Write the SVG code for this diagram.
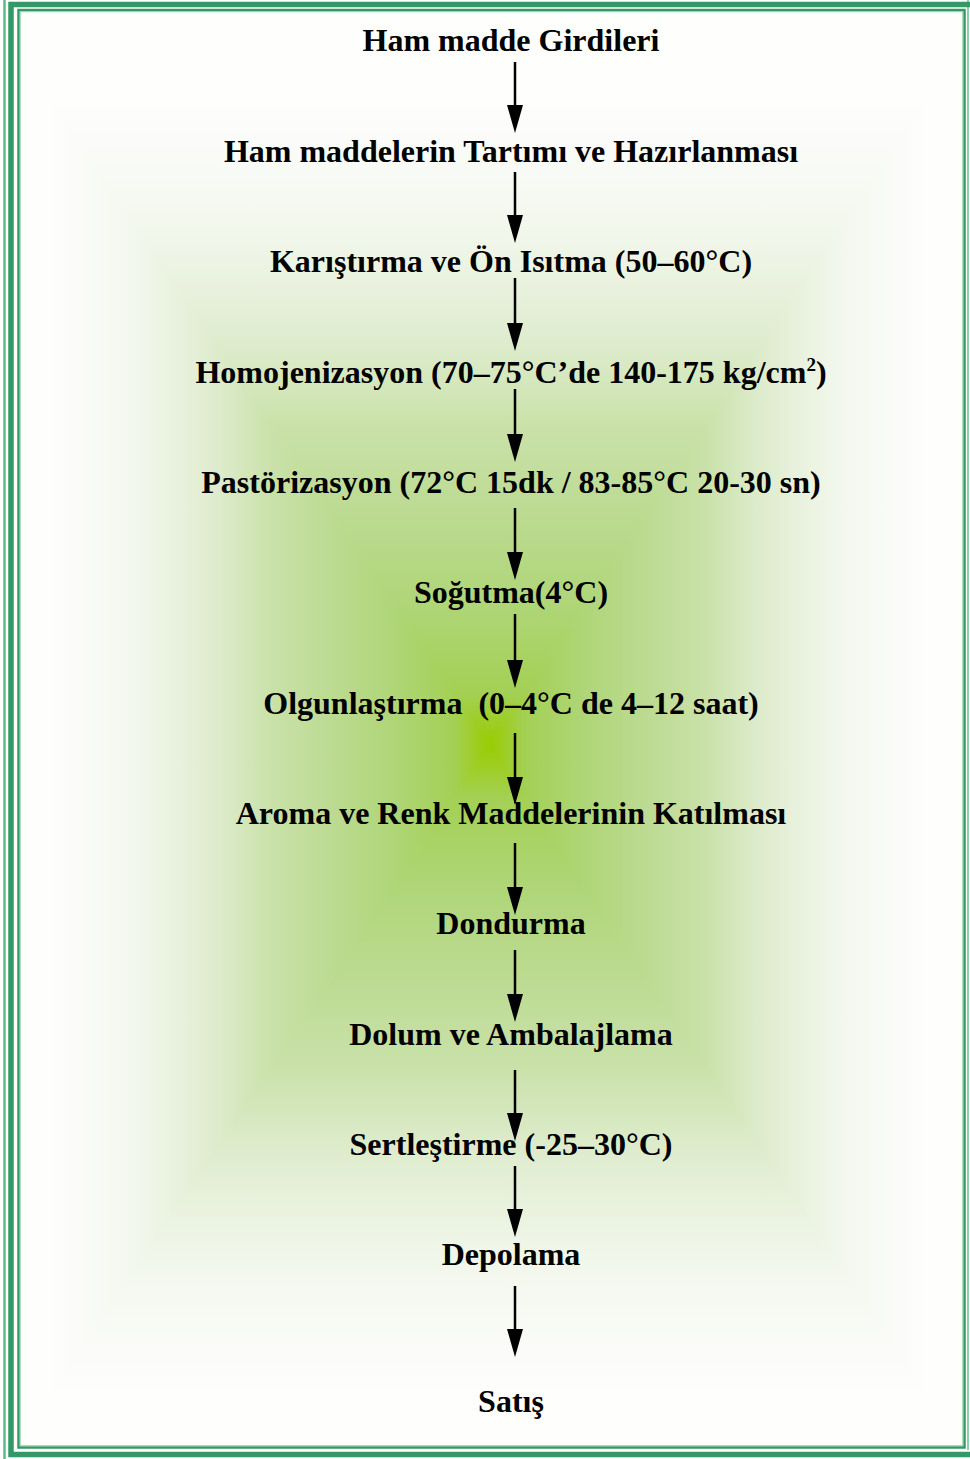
<svg xmlns="http://www.w3.org/2000/svg" xmlns:xlink="http://www.w3.org/1999/xlink" width="970" height="1459" viewBox="0 0 970 1459">
<style>
.t{font-family:"Liberation Serif","Times New Roman",serif;font-weight:bold;font-size:32px;fill:#000;text-anchor:middle;white-space:pre}
.c{stroke:#000;stroke-width:2.5;fill:none}
</style>
<defs>
<linearGradient id="gt" gradientUnits="userSpaceOnUse" x1="0" y1="100" x2="0" y2="745">
<stop offset="0" stop-color="#fefefd"/><stop offset="0.116" stop-color="#f8faf5"/><stop offset="0.2" stop-color="#f2f7ec"/><stop offset="0.3" stop-color="#e8f1dc"/><stop offset="0.39" stop-color="#dcebca"/><stop offset="0.51" stop-color="#c9e1a8"/><stop offset="0.61" stop-color="#bfdc97"/><stop offset="0.77" stop-color="#b0d67a"/><stop offset="0.92" stop-color="#a3d054"/><stop offset="1" stop-color="#99cc00"/>
</linearGradient>
<linearGradient id="gb" xlink:href="#gt" gradientUnits="userSpaceOnUse" x1="0" y1="1395" x2="0" y2="745"/>
<linearGradient id="gl" xlink:href="#gt" gradientUnits="userSpaceOnUse" x1="49" y1="0" x2="490" y2="0"/>
<linearGradient id="gr" xlink:href="#gt" gradientUnits="userSpaceOnUse" x1="926" y1="0" x2="490" y2="0"/>
<marker id="ah" markerWidth="28" markerHeight="16" refX="18" refY="8" orient="auto" markerUnits="userSpaceOnUse" viewBox="0 0 28 16">
<path d="M0,0 L28,8 L0,16 Z" fill="#000"/>
</marker>
</defs>
<rect x="0" y="0" width="970" height="1459" fill="#fff"/>
<g id="background">
<polygon points="-39,-29 1013,-29 490,745" fill="url(#gt)" stroke="url(#gt)" stroke-width="1"/>
<polygon points="-39,1525 1013,1525 490,745" fill="url(#gb)" stroke="url(#gb)" stroke-width="1"/>
<polygon points="-39,-29 -39,1525 490,745" fill="url(#gl)" stroke="url(#gl)" stroke-width="1"/>
<polygon points="1013,-29 1013,1525 490,745" fill="url(#gr)" stroke="url(#gr)" stroke-width="1"/>
<rect x="0" y="0" width="22" height="1459" fill="#fff"/>
<rect x="0" y="0" width="970" height="13" fill="#fff"/>
<rect x="0" y="1445" width="970" height="14" fill="#fff"/>
<rect x="962" y="0" width="8" height="1459" fill="#fff"/>
</g>
<g id="frame">
<line x1="4.5" y1="0" x2="4.5" y2="1459" stroke="#5fb888" stroke-width="2.5"/>
<line x1="968" y1="0" x2="968" y2="1450" stroke="#8fd0a8" stroke-width="2"/>
<rect x="11" y="4.5" width="975" height="1450" fill="none" stroke="#339966" stroke-width="5.5"/>
<rect x="18.5" y="10" width="946" height="1437.5" fill="none" stroke="#339966" stroke-width="2.5"/>
<rect x="20.2" y="11.7" width="942.6" height="1434" fill="none" stroke="#8fd0a8" stroke-width="1"/>
</g>
<g id="connectors">
<line class="c" x1="515" y1="62" x2="515" y2="123" marker-end="url(#ah)"/>
<line class="c" x1="515" y1="172" x2="515" y2="233" marker-end="url(#ah)"/>
<line class="c" x1="515" y1="278" x2="515" y2="341" marker-end="url(#ah)"/>
<line class="c" x1="515" y1="389" x2="515" y2="452" marker-end="url(#ah)"/>
<line class="c" x1="515" y1="508" x2="515" y2="570" marker-end="url(#ah)"/>
<line class="c" x1="515" y1="614" x2="515" y2="678" marker-end="url(#ah)"/>
<line class="c" x1="515" y1="733" x2="515" y2="795" marker-end="url(#ah)"/>
<line class="c" x1="515" y1="843" x2="515" y2="905" marker-end="url(#ah)"/>
<line class="c" x1="515" y1="950" x2="515" y2="1012" marker-end="url(#ah)"/>
<line class="c" x1="515" y1="1070" x2="515" y2="1131" marker-end="url(#ah)"/>
<line class="c" x1="515" y1="1166" x2="515" y2="1227" marker-end="url(#ah)"/>
<line class="c" x1="515" y1="1286" x2="515" y2="1347" marker-end="url(#ah)"/>
</g>
<g id="n1"><text class="t" x="511" y="51">Ham madde Girdileri</text></g>
<g id="n2"><text class="t" x="511" y="162">Ham maddelerin Tartımı ve Hazırlanması</text></g>
<g id="n3"><text class="t" x="511" y="272">Karıştırma ve Ön Isıtma (50–60°C)</text></g>
<g id="n4"><text class="t" x="511" y="383">Homojenizasyon (70–75°C’de 140-175 kg/cm<tspan font-size="19" dy="-12">2</tspan><tspan dy="12">)</tspan></text></g>
<g id="n5"><text class="t" x="511" y="493">Pastörizasyon (72°C 15dk / 83-85°C 20-30 sn)</text></g>
<g id="n6"><text class="t" x="511" y="603">Soğutma(4°C)</text></g>
<g id="n7"><text class="t" x="511" y="714">Olgunlaştırma  (0–4°C de 4–12 saat)</text></g>
<g id="n8"><text class="t" x="511" y="824">Aroma ve Renk Maddelerinin Katılması</text></g>
<g id="n9"><text class="t" x="511" y="934">Dondurma</text></g>
<g id="n10"><text class="t" x="511" y="1045">Dolum ve Ambalajlama</text></g>
<g id="n11"><text class="t" x="511" y="1155">Sertleştirme (-25–30°C)</text></g>
<g id="n12"><text class="t" x="511" y="1265">Depolama</text></g>
<g id="n13"><text class="t" x="511" y="1412">Satış</text></g>
</svg>
